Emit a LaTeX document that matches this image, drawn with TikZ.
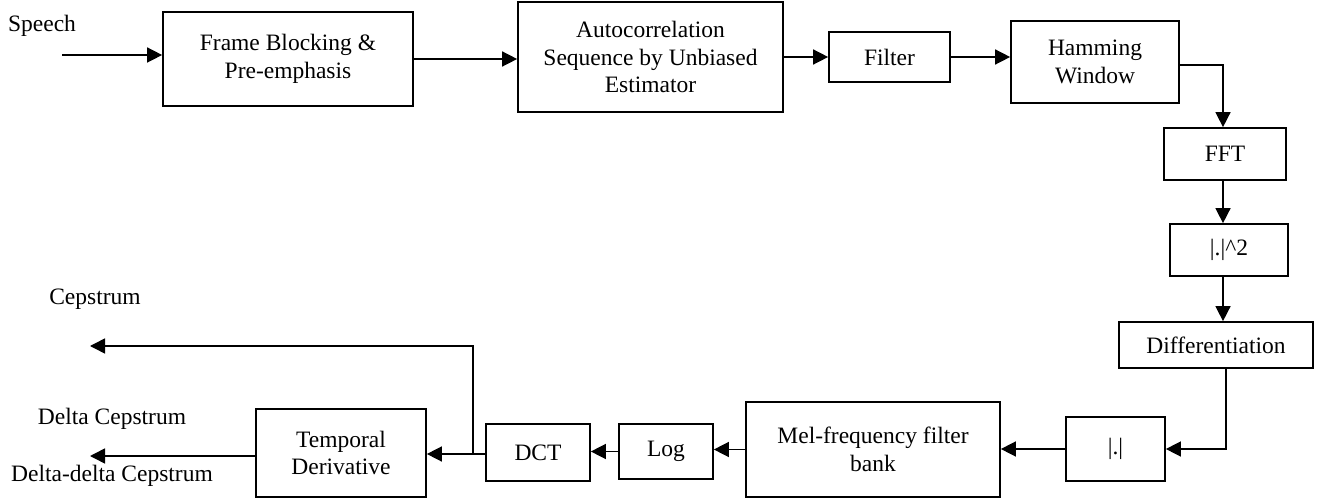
\documentclass[tikz,border=0pt]{standalone}
\usepackage{fontspec}
\setmainfont{Liberation Serif}
\usepackage{tikz}
\usetikzlibrary{arrows.meta}

\begin{document}
\begin{tikzpicture}[
		x=1pt, y=-1pt,
		font=\fontsize{23.5}{27.5}\selectfont,
		blocknode/.style={rectangle, draw=black, line width=1.7pt, align=center, inner sep=0pt},
		flowarrow/.style={-{Triangle[length=15pt,width=15pt]}, line width=1.5pt},
	]
		\useasboundingbox (0,0) rectangle (1327,502);

		% nodes
		\node[blocknode, minimum width=250pt, minimum height=94pt]  (frame)    at (288,59)     {Frame Blocking \&\\Pre-emphasis};
		\node[blocknode, minimum width=265pt, minimum height=110pt] (autocorr) at (650.5,57)   {Autocorrelation\\Sequence by Unbiased\\Estimator};
		\node[blocknode, minimum width=121pt, minimum height=50pt]  (filter)   at (889.5,57)   {Filter};
		\node[blocknode, minimum width=168pt, minimum height=82pt]  (hamming)  at (1095,62)    {Hamming\\Window};
		\node[blocknode, minimum width=122pt, minimum height=52pt]  (fft)      at (1225,154)   {FFT};
		\node[blocknode, minimum width=118pt, minimum height=52pt]  (square)   at (1229,250)   {|.|\textasciicircum 2};
		\node[blocknode, minimum width=194pt, minimum height=46pt]  (diff)     at (1216,345)   {Differentiation};
		\node[blocknode, minimum width=99pt,  minimum height=64pt]  (abs)      at (1115.5,449) {|.|};
		\node[blocknode, minimum width=254pt, minimum height=95pt]  (mel)      at (873,449.5)  {Mel-frequency filter\\bank};
		\node[blocknode, minimum width=94pt,  minimum height=55pt]  (log)      at (666,451.5)  {Log};
		\node[blocknode, minimum width=104pt, minimum height=57pt]  (dct)      at (538,452.5)  {DCT};
		\node[blocknode, minimum width=170pt, minimum height=88pt]  (temporal) at (341,453)    {Temporal\\Derivative};

		% labels
		\node (speech)     at (42,26)   {Speech};
		\node (cepstrum)   at (95,299)  {Cepstrum};
		\node (delta)      at (112,419) {Delta Cepstrum};
		\node (deltadelta) at (112,476) {Delta-delta Cepstrum};

		% free ends
		\coordinate (in)    at (62,55);
		\coordinate (split) at (473,454);
		\coordinate (cep)   at (90,346);
		\coordinate (dcep)  at (90,456);

		% lines
		\draw[flowarrow] (in) -- (frame.west |- in);
		\draw[flowarrow] (frame.east) -- (autocorr.west |- frame.east);
		\draw[flowarrow] (autocorr.east |- filter.west) -- (filter.west);
		\draw[flowarrow] (filter.east) -- (hamming.west |- filter.east);
		\draw[flowarrow] ([yshift=-3pt]hamming.east) -| ([xshift=-2pt]fft.north);
		\draw[flowarrow] ([xshift=-2pt]fft.south) -- ([xshift=-2pt]fft.south |- square.north);
		\draw[flowarrow] ([xshift=-6pt]square.south) -- ([xshift=-6pt]square.south |- diff.north);
		\draw[flowarrow] ([xshift=10pt]diff.south) |- (abs.east);
		\draw[flowarrow] (abs.west) -- (mel.east |- abs.west);
		\draw[flowarrow] (mel.west) -- (log.east |- mel.west);
		\draw[flowarrow] (log.west) -- (dct.east |- log.west);
		\draw[flowarrow] (dct.west |- split) -- (temporal.east |- split);
		\draw[flowarrow] (split) |- (cep);
		\draw[flowarrow] (temporal.west |- dcep) -- (dcep);

	\end{tikzpicture}
\end{document}
